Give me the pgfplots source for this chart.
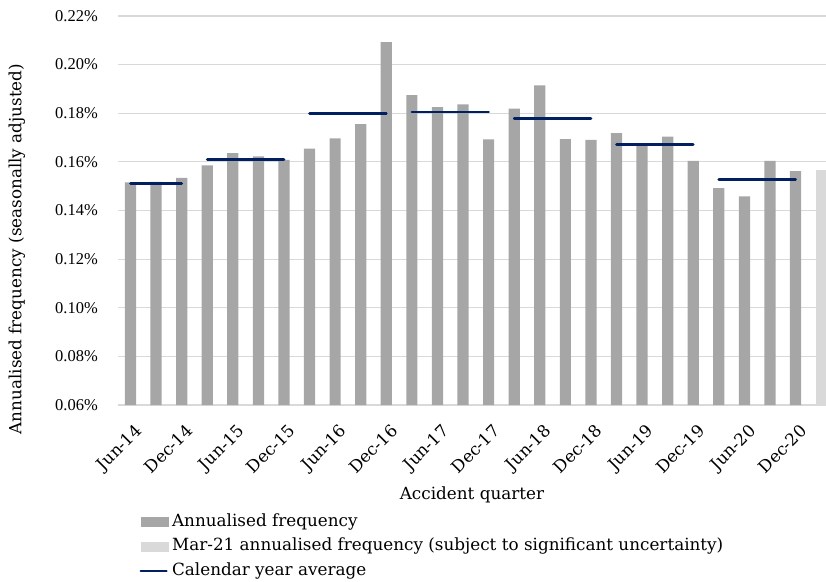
\documentclass[border=0pt]{standalone}
\usepackage{fontspec}
\setmainfont{DejaVu Serif}
\newfontfamily\tickfont{Liberation Serif}
\usepackage{pgfplots}
\pgfplotsset{compat=1.18}
\definecolor{barg}{HTML}{A6A6A6}
\definecolor{barl}{HTML}{D9D9D9}
\definecolor{gridc}{HTML}{D9D9D9}
\definecolor{navy}{HTML}{002060}
\newcommand\cf{\fontsize{16.8pt}{20pt}\selectfont}
\newcommand\tf{\tickfont\fontsize{16.5pt}{19pt}\selectfont}
\pgfplotstableread{
x y
0 0.1516
1 0.1518
2 0.1534
3 0.1586
4 0.1636
5 0.1623
6 0.1608
7 0.1655
8 0.1697
9 0.1755
10 0.2093
11 0.1875
12 0.1825
13 0.1837
14 0.1693
15 0.1819
16 0.1915
17 0.1694
18 0.1690
19 0.1718
20 0.1670
21 0.1704
22 0.1604
23 0.1492
24 0.1458
25 0.1604
26 0.1562
}\freq
\pgfplotstableread{
x y
27 0.1567
}\lastq
\pgfplotstableread{
x y
0 0.1510
2 0.1510
nan nan
3 0.1611
6 0.1611
nan nan
7 0.1799
10 0.1799
nan nan
11 0.1805
14 0.1805
nan nan
15 0.1778
18 0.1778
nan nan
19 0.1673
22 0.1673
nan nan
23 0.1526
26 0.1526
}\avg
\begin{document}
\begin{tikzpicture}
\begin{axis}[
  name=ax, at={(0,0)}, anchor=south west,
  scale only axis, width=708pt, height=389pt,
  xmin=-0.489, xmax=27.19, ymin=0.06, ymax=0.22,
  axis line style={draw=none},
  major tick length=0pt,
  ymajorgrids, grid style={color=gridc, line width=1.2pt},
  ytick={0.06,0.08,0.10,0.12,0.14,0.16,0.18,0.20,0.22},
  yticklabel={\pgfmathprintnumber[fixed,fixed zerofill,precision=2]{\tick}\%},
  /pgf/number format/assume math mode=true,
  yticklabel style={font=\tf, anchor=east, inner sep=0pt, xshift=-20pt},
  xtick={0,2,4,6,8,10,12,14,16,18,20,22,24,26},
  xticklabels={Jun-14,Dec-14,Jun-15,Dec-15,Jun-16,Dec-16,Jun-17,Dec-17,Jun-18,Dec-18,Jun-19,Dec-19,Jun-20,Dec-20},
  xticklabel style={font=\cf, inner sep=0pt, xshift=3.5pt, yshift=-18pt, rotate=45, anchor=north east},
  xlabel={Accident quarter},
  xlabel style={font=\cf, at={(axis description cs:0.5,-0.2434)}, anchor=base},
  ylabel={Annualised frequency (seasonally adjusted)},
  ylabel style={font=\cf, at={(axis description cs:-0.1427,0.401)}, anchor=center, rotate=0},
  unbounded coords=jump,
  legend style={at={(axis description cs:0.0301,-0.2802)}, anchor=north west, draw=none, fill=none,
    inner sep=0pt, font=\cf, row sep=8.5pt, column sep=3pt,
    nodes={inner sep=0pt, text height=12pt, text depth=4pt}},
  legend cell align=left,
]
\addplot[ybar, bar width=11.2pt, bar shift=0pt, fill=barg, draw=none,
  legend image code/.code={\fill[barg] (0pt,-5pt) rectangle (28.5pt,5pt);}]
  table[x=x,y=y]{\freq};
\addlegendentry{Annualised frequency}
\addplot[ybar, bar width=11.2pt, bar shift=0pt, fill=barl, draw=none,
  legend image code/.code={\fill[barl] (0pt,-5pt) rectangle (28.5pt,5pt);}]
  table[x=x,y=y]{\lastq};
\addlegendentry{Mar-21 annualised frequency (subject to significant uncertainty)}
\addplot[navy, line width=2.8pt, line cap=round, mark=none,
  legend image code/.code={\draw[navy, line width=2.2pt] (0pt,0pt) -- (26pt,0pt);}]
  table[x=x,y=y]{\avg};
\addlegendentry{Calendar year average}
\end{axis}
\pgfresetboundingbox
\path ([shift={(-118pt,-176pt)}]ax.south west) rectangle ([shift={(0pt,16pt)}]ax.north east);
\end{tikzpicture}
\end{document}
